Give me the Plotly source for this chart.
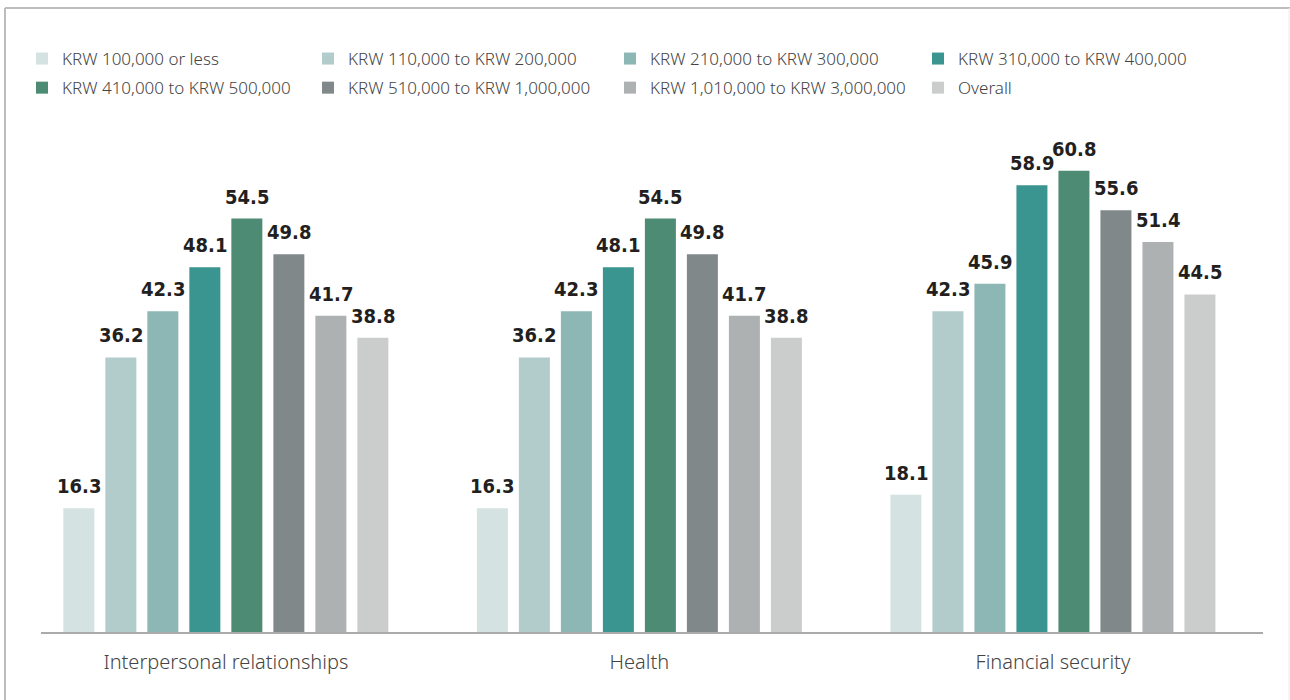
import plotly.graph_objects as go

categories = ["Interpersonal relationships", "Health", "Financial security"]
series_names = [
    "KRW 100,000 or less",
    "KRW 110,000 to KRW 200,000",
    "KRW 210,000 to KRW 300,000",
    "KRW 310,000 to KRW 400,000",
    "KRW 410,000 to KRW 500,000",
    "KRW 510,000 to KRW 1,000,000",
    "KRW 1,010,000 to KRW 3,000,000",
    "Overall",
]
colors = ["#d4e3e1", "#b1cccb", "#8db7b5", "#3a9490",
          "#4e8b74", "#80888a", "#adb1b2", "#cbcdcc"]

# one list per income band: [interpersonal, health, financial]
band_100k = [16.3, 16.3, 18.1]
band_200k = [36.2, 36.2, 42.3]
band_300k = [42.3, 42.3, 45.9]
band_400k = [48.1, 48.1, 58.9]
band_500k = [54.5, 54.5, 60.8]
band_1m = [49.8, 49.8, 55.6]
band_3m = [41.7, 41.7, 51.4]
overall = [38.8, 38.8, 44.5]

series_values = [band_100k, band_200k, band_300k, band_400k,
                 band_500k, band_1m, band_3m, overall]

W, H = 1290, 700
M_L, M_R, M_T, M_B = 41, 27, 120, 68
BARGAP = 0.1874
GROUPGAP = 0.262

fig = go.Figure()
xs = list(range(len(categories)))
legend_ids = ["legend", "legend2", "legend3", "legend4"]
for i, (name, vals, col) in enumerate(zip(series_names, series_values, colors)):
    fig.add_trace(go.Bar(
        x=xs, y=vals, name=name, marker=dict(color=col, line=dict(width=0)),
        legend=legend_ids[i % 4], legendgroup=name,
        hoverinfo="skip",
    ))

# value labels above each bar
n = len(series_names)
slot = (1 - BARGAP) / n
label_font = dict(
    family="Noto Sans Condensed, Noto Sans ExtraCondensed, DejaVu Sans Condensed, sans-serif",
    size=20, color="#231f20", weight="bold")
annotations = []
for i, vals in enumerate(series_values):
    for g, v in enumerate(vals):
        annotations.append(dict(
            x=g - (1 - BARGAP) / 2 + (i + 0.5) * slot, y=v,
            xref="x", yref="y", text=f"{v:.1f}", showarrow=False,
            yanchor="bottom", yshift=8, font=label_font,
        ))

legend_font = dict(family="Noto Sans, sans-serif", size=17, color="#444444", weight=300)
text_x = [62, 348, 650, 958]
legend_layout = {}
for k, lid in enumerate(legend_ids):
    legend_layout[lid] = dict(
        x=(text_x[k] - 40) / W, xref="container", xanchor="left",
        y=1 - 41 / H, yref="container", yanchor="top",
        orientation="v", font=legend_font, bgcolor="rgba(0,0,0,0)",
        tracegroupgap=4, itemclick=False, itemdoubleclick=False,
    )

# frame lines around the chart
pw = W - M_L - M_R
ph = H - M_T - M_B
def px_x(p):
    return (p - M_L) / pw
def px_y(p):
    return 1 - (p - M_T) / ph

shapes = [
    dict(type="line", xref="paper", yref="paper", x0=px_x(5), x1=px_x(1290),
         y0=px_y(8), y1=px_y(8), line=dict(color="#bdbdbd", width=2)),
    dict(type="line", xref="paper", yref="paper", x0=px_x(5), x1=px_x(5),
         y0=px_y(8), y1=px_y(700), line=dict(color="#bdbdbd", width=2)),
    dict(type="line", xref="paper", yref="paper", x0=px_x(1289), x1=px_x(1289),
         y0=px_y(8), y1=px_y(700), line=dict(color="#ebebeb", width=1)),
]

fig.update_layout(
    width=W, height=H,
    margin=dict(l=M_L, r=M_R, t=M_T, b=M_B, autoexpand=False),
    paper_bgcolor="white", plot_bgcolor="white",
    barmode="group", bargap=BARGAP, bargroupgap=GROUPGAP,
    annotations=annotations, shapes=shapes,
    showlegend=True,
    xaxis=dict(
        tickmode="array", tickvals=xs, ticktext=categories,
        range=[-0.447, 2.508], showgrid=False, zeroline=False,
        showline=True, linecolor="#aaaaaa", linewidth=2,
        ticks="", ticklabelstandoff=11, automargin=False,
        tickfont=dict(family="Noto Sans, sans-serif", size=20, color="#444444", weight=300),
    ),
    yaxis=dict(range=[0, 67.5], visible=False, showgrid=False, zeroline=False,
               automargin=False),
    **legend_layout,
)

fig.write_html("out.html")
